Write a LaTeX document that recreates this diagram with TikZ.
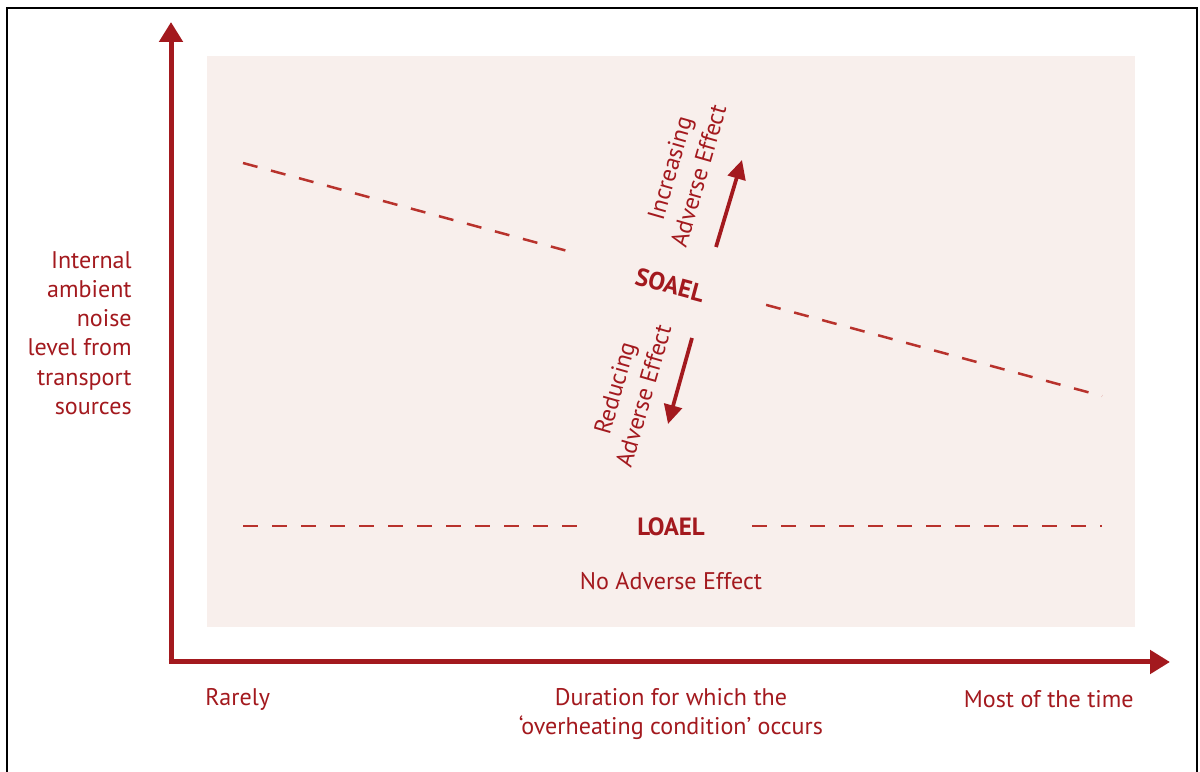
\documentclass[tikz,border=0pt]{standalone}
\usepackage{fontspec}
\setmainfont{PT Sans}
\usetikzlibrary{arrows.meta,calc}
\definecolor{darkred}{HTML}{A3191E}
\definecolor{dashred}{HTML}{B8322C}
\definecolor{pinkbg}{HTML}{F8EFEC}

\begin{document}
\begin{tikzpicture}[
    axis/.style={darkred, line width=1mm, -{Triangle[width=4.6mm,length=4mm]}},
    effectarrow/.style={darkred, line width=0.75mm, -{Triangle[width=3.6mm,length=3.8mm]}},
    level/.style={dashred, line width=0.5mm, dash pattern=on 3mm off 2.8mm},
    lbl/.style={text=darkred, font=\fontsize{13.7}{17}\selectfont, inner sep=0pt},
    levellbl/.style={lbl, font=\fontsize{14.2}{17}\selectfont\bfseries}
]
    \useasboundingbox (0,0) rectangle (24,15.42);
    \draw[line width=0.5mm, black] (0.14,-0.5) -- (0.14,15.26) -- (23.94,15.26) -- (23.94,-0.5);
    \fill[pinkbg] (4.14,2.88) rectangle (22.7,14.3);

    % axes
    \coordinate (O) at (3.42,2.18);
    \coordinate (ytip) at (3.42,14.98);
    \coordinate (xtip) at (23.4,2.18);
    \draw[axis] (O) -- (ytip);
    \draw[axis] ($(O)+(-0.05,0)$) -- (xtip);

    % SOAEL
    \coordinate (s1) at (4.86,12.16);
    \coordinate (s2) at (22.04,7.5);
    \draw[level] (s1) -- ($(s1)!0.39!(s2)$);
    \draw[level] ($(s1)!0.609!(s2)$) -- (s2);
    \node[levellbl, rotate=-15] (soael) at (13.4,9.72) {SOAEL};

    % LOAEL
    \coordinate (l1) at (4.86,4.9);
    \coordinate (l2) at (22.04,4.9);
    \draw[level] (l1) -- (11.8,4.9);
    \draw[level] (15.04,4.9) -- (l2);
    \node[levellbl] (loael) at (13.42,4.88) {LOAEL};
    \node[lbl] (noeffect) at (13.42,3.8) {No Adverse Effect};

    % effect arrows
    \coordinate (inc1) at (14.32,10.48);
    \coordinate (inc2) at (14.84,12.22);
    \draw[effectarrow] (inc1) -- (inc2);
    \node[lbl, rotate=74, align=center] (inc) at (13.68,11.98) {Increasing\\Adverse Effect};
    \coordinate (red1) at (13.84,8.66);
    \coordinate (red2) at (13.36,6.94);
    \draw[effectarrow] (red1) -- (red2);
    \node[lbl, rotate=74, align=center] (red) at (12.58,7.58) {Reducing\\Adverse Effect};

    % axis labels
    \node[lbl, align=right, anchor=east, font=\fontsize{13.7}{15}\selectfont] (ylabel) at (2.64,8.76)
        {Internal\\[1.6pt]ambient\\[1.6pt]noise\\[1.6pt]level from\\[1.6pt]transport\\[1.6pt]sources};
    \node[lbl, anchor=west] (rarely) at (4.1,1.44) {Rarely};
    \node[lbl, align=center] (duration) at (13.42,1.14) {Duration for which the\\`overheating condition' occurs};
    \node[lbl, anchor=east] (most) at (22.68,1.44) {Most of the time};
\end{tikzpicture}
\end{document}
